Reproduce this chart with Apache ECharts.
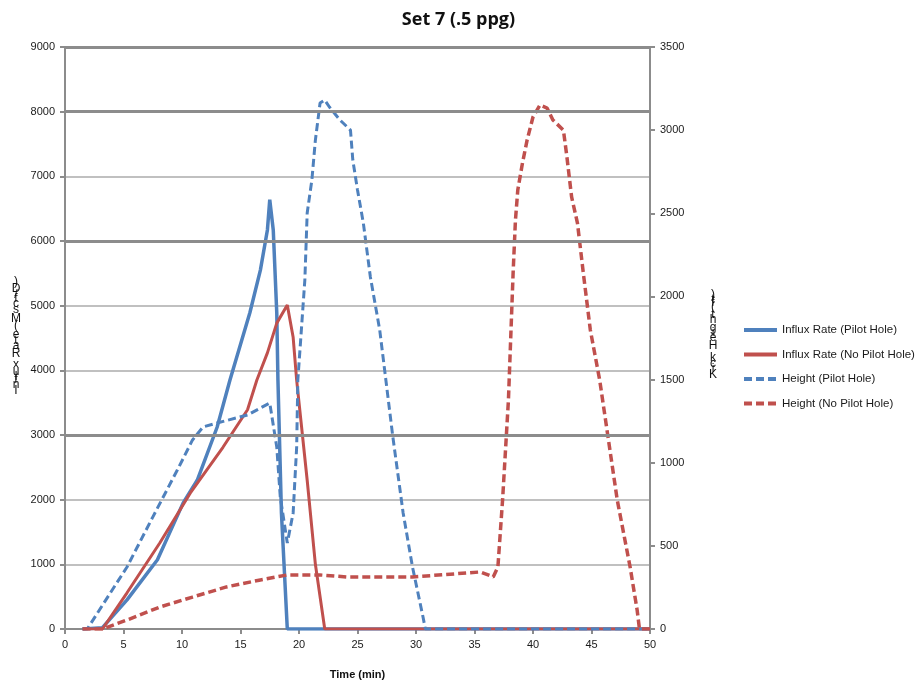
<!DOCTYPE html>
<html><head><meta charset="utf-8">
<script src="https://cdn.jsdelivr.net/npm/echarts@6/dist/echarts.min.js"></script>
<style>html,body{margin:0;padding:0;background:#fff}#c{width:917px;height:686px}</style>
</head><body><div id="c"></div>
<script>
// Influx Rate (Pilot Hole) – left axis
const influxPilotT = [1.5, 3.2, 5.3, 7.9, 10.1, 11.3, 13.0, 14.1, 15.8, 16.7, 17.3, 17.5, 17.8, 18.1, 18.2, 18.5, 19.0, 50];
const influxPilotV = [0, 20, 450, 1070, 1950, 2300, 3120, 3850, 4890, 5550, 6170, 6640, 6170, 4890, 3850, 1790, 0, 0];
// Influx Rate (No Pilot Hole) – left axis
const influxNoPilotT = [1.5, 3.2, 5.3, 8.1, 10.7, 13.5, 15.6, 16.4, 17.3, 18.1, 19.0, 19.5, 19.8, 20.7, 21.4, 22.2, 50];
const influxNoPilotV = [0, 0, 560, 1330, 2100, 2810, 3390, 3850, 4270, 4730, 5010, 4510, 3850, 2300, 1000, 0, 0];
// Height (Pilot Hole) – right axis
const heightPilotT = [1.5, 1.9, 5.3, 7.5, 9.6, 10.9, 11.8, 13.0, 15.6, 17.5, 18.1, 18.4, 19.0, 19.5, 19.8, 19.9, 20.1, 20.5, 20.7, 21.1, 21.4, 21.8, 22.2, 22.6, 23.5, 24.4, 24.6, 25.0, 25.5, 26.1, 26.9, 28.0, 28.9, 29.7, 30.6, 30.8, 50];
const heightPilotV = [0, 0, 373, 673, 956, 1137, 1215, 1239, 1287, 1359, 1094, 794, 517, 698, 1094, 1497, 1696, 2099, 2502, 2700, 2940, 3163, 3181, 3139, 3061, 3000, 2820, 2640, 2441, 2117, 1798, 1167, 698, 373, 72, 0, 0];
// Height (No Pilot Hole) – right axis
const heightNoPilotT = [1.5, 3.2, 5.3, 8.1, 10.9, 13.8, 16.7, 19.0, 21.8, 24.1, 29.7, 35.5, 36.6, 37.0, 37.4, 37.9, 38.3, 38.5, 38.7, 39.1, 39.5, 40.0, 40.6, 41.2, 41.7, 42.6, 42.9, 43.3, 43.8, 44.3, 44.9, 45.7, 47.2, 48.3, 48.9, 49.1, 50];
const heightNoPilotV = [0, 0, 54, 132, 192, 253, 295, 325, 325, 313, 313, 343, 313, 373, 776, 1377, 2141, 2460, 2640, 2802, 2941, 3079, 3151, 3133, 3061, 3000, 2838, 2598, 2441, 2141, 1798, 1497, 776, 373, 114, 0, 0];

const seriesNames = ['Influx Rate (Pilot Hole)', 'Influx Rate (No Pilot Hole)', 'Height (Pilot Hole)', 'Height (No Pilot Hole)'];
const majorGridValues = [3000, 6000, 8000, 9000];
const leftTitle = 'Influx Rate (Mscf/D)';
const rightTitle = 'Kick Height (ft)';

const pairs = (t, v) => t.map((x, i) => [x, v[i]]);
const BLUE = '#4F81BD', RED = '#C0504D';

// axis titles rendered as in the reference: upright glyphs stacked along a vertical run
function stackedTitle(text, cx, yTop, yBottom) {
  const font = '12px "Liberation Sans"';
  const cv = document.createElement('canvas').getContext('2d');
  cv.font = font;
  const w = [...text].map(ch => cv.measureText(ch).width);
  const total = w.reduce((a, b) => a + b, 0);
  const scale = (yBottom - yTop) / total;
  const els = [];
  let acc = 0;
  [...text].forEach((ch, i) => {
    const mid = acc + w[i] / 2;
    acc += w[i];
    if (ch === ' ') return;
    els.push({
      type: 'text', silent: true,
      style: { text: ch, x: cx, y: yBottom - mid * scale, fill: '#111', font: font, align: 'center', verticalAlign: 'middle' }
    });
  });
  return els;
}

const chart = echarts.init(document.getElementById('c'));
const axisFont = { fontFamily: 'Liberation Sans', fontSize: 11, color: '#1a1a1a', formatter: v => String(v) };
const grayLine = { color: '#8c8c8c', width: 2 };

chart.setOption({
  animation: false,
  backgroundColor: '#fff',
  title: {
    text: 'Set 7 (.5 ppg)', left: 'center', top: 6,
    textStyle: { fontFamily: 'Open Sans', fontWeight: 'bold', fontSize: 18, color: '#111' }
  },
  grid: { left: 65, right: 267, top: 47, bottom: 57 },
  legend: {
    data: seriesNames, orient: 'vertical', left: 737, top: 319, itemGap: 12.5,
    itemWidth: 33, itemHeight: 14,
    itemStyle: { opacity: 0 },
    lineStyle: { width: 4 },
    textStyle: { fontFamily: 'Liberation Sans', fontSize: 11.5, color: '#1a1a1a' }
  },
  xAxis: {
    type: 'value', min: 0, max: 50, interval: 5,
    name: 'Time (min)', nameLocation: 'middle', nameGap: 40,
    nameTextStyle: { fontFamily: 'Liberation Sans', fontWeight: 'bold', fontSize: 11, color: '#111' },
    axisLine: { show: true, onZero: false, lineStyle: grayLine },
    axisTick: { show: true, length: 5, lineStyle: grayLine },
    axisLabel: Object.assign({ margin: 10 }, axisFont),
    splitLine: { show: false }
  },
  yAxis: [
    {
      type: 'value', min: 0, max: 9000, interval: 1000, position: 'left',
      axisLine: { show: true, lineStyle: grayLine },
      axisTick: { show: true, length: 5, lineStyle: grayLine },
      axisLabel: Object.assign({ margin: 10 }, axisFont),
      splitLine: { show: true, lineStyle: { color: '#ababab', width: 1.5 } }
    },
    {
      type: 'value', min: 0, max: 3500, interval: 500, position: 'right',
      axisLine: { show: true, lineStyle: grayLine },
      axisTick: { show: true, length: 5, lineStyle: grayLine },
      axisLabel: Object.assign({ margin: 10 }, axisFont),
      splitLine: { show: false }
    }
  ],
  graphic: stackedTitle(leftTitle, 16, 280, 392).concat(stackedTitle(rightTitle, 713, 293, 379)),
  series: [
    {
      name: '_grid', type: 'line', data: [], z: 1, silent: true,
      markLine: {
        silent: true, symbol: 'none', label: { show: false },
        lineStyle: { color: '#8c8c8c', width: 3, type: 'solid' },
        data: majorGridValues.map(v => ({ yAxis: v }))
      }
    },
    {
      name: seriesNames[0], type: 'line', yAxisIndex: 0, showSymbol: false, symbol: 'none',
      data: pairs(influxPilotT, influxPilotV), color: BLUE,
      lineStyle: { color: BLUE, width: 3.5 }
    },
    {
      name: seriesNames[1], type: 'line', yAxisIndex: 0, showSymbol: false, symbol: 'none',
      data: pairs(influxNoPilotT, influxNoPilotV), color: RED,
      lineStyle: { color: RED, width: 3 }
    },
    {
      name: seriesNames[2], type: 'line', yAxisIndex: 1, showSymbol: false, symbol: 'none',
      data: pairs(heightPilotT, heightPilotV), color: BLUE,
      lineStyle: { color: BLUE, width: 3, type: [8, 4] }
    },
    {
      name: seriesNames[3], type: 'line', yAxisIndex: 1, showSymbol: false, symbol: 'none',
      data: pairs(heightNoPilotT, heightNoPilotV), color: RED,
      lineStyle: { color: RED, width: 3.5, type: [8, 4] }
    }
  ]
});
</script>
</body></html>
